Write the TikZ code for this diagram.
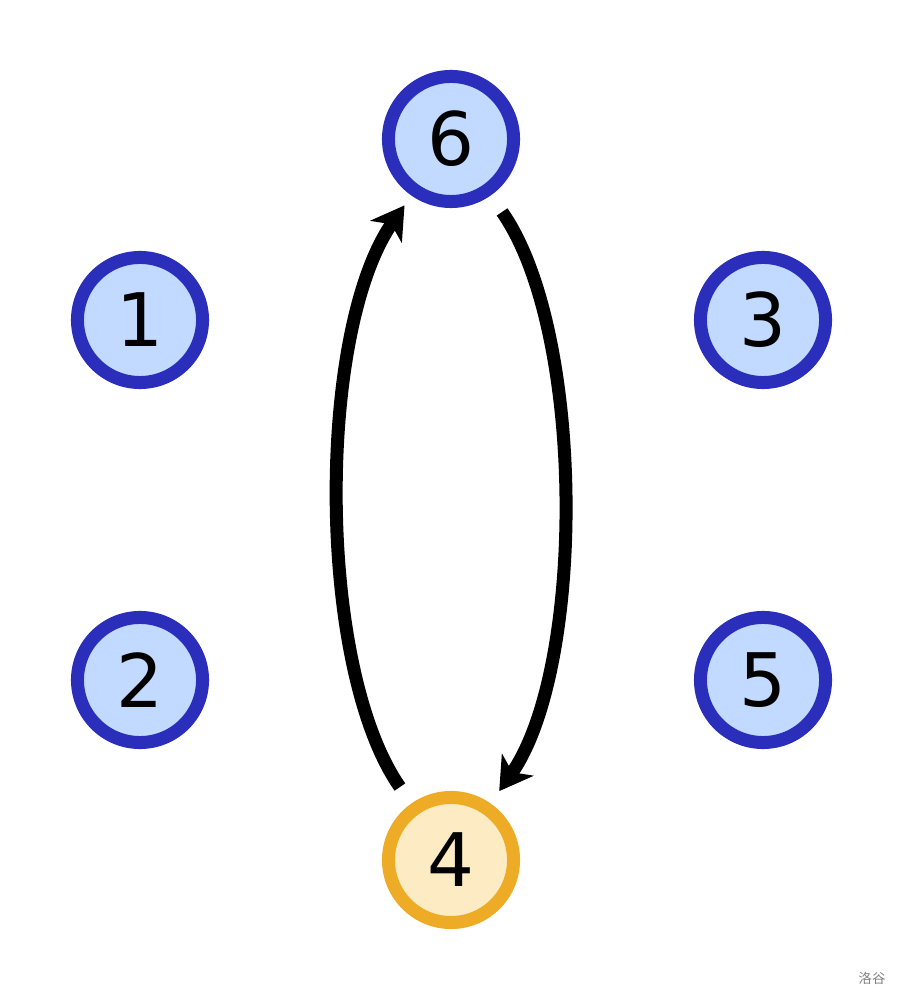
\documentclass[tikz,border=0pt]{standalone}
\usepackage{fontspec}
\setmainfont{DejaVu Sans}
\newfontfamily\cjk{Noto Sans CJK SC}
\usetikzlibrary{arrows.meta}
\definecolor{vblue}{RGB}{42,46,187}
\definecolor{vfill}{RGB}{194,218,255}
\definecolor{vorange}{RGB}{238,172,38}
\definecolor{vcream}{RGB}{252,235,195}
\begin{document}
\begin{tikzpicture}[x=0.01cm, y=0.01cm, line join=round, >={Stealth[length=0.32cm,width=0.38cm,inset=0.09cm]},
	vtx/.style={circle, draw=vblue, fill=vfill, line width=0.13cm, minimum size=1.25cm, inner sep=0pt, font=\fontsize{21}{21}\selectfont},
	cur/.style={vtx, draw=vorange, fill=vcream},
	edge/.style={->, line width=0.13cm, looseness=0.7}]
		\useasboundingbox (0,0) rectangle (903,1000);
		\node[vtx] (v6) at (451,861) {6};
		\node[vtx] (v1) at (140,680) {1};
		\node[vtx] (v3) at (763,680) {3};
		\node[vtx] (v2) at (140,320) {2};
		\node[vtx] (v5) at (763,320) {5};
		\node[cur] (v4) at (451,140) {4};
		\draw[edge, shorten <=0.2cm, shorten >=0.12cm](v4) to[out=125, in=-125] (v6);
		\draw[edge, shorten <=0.2cm, shorten >=0.15cm](v6) to[out=-55, in=55] (v4);
		\node[text=gray, font=\cjk\fontsize{3.8}{4}\selectfont] (logo) at (872,22) {洛谷};
		
	\end{tikzpicture}
\end{document}
